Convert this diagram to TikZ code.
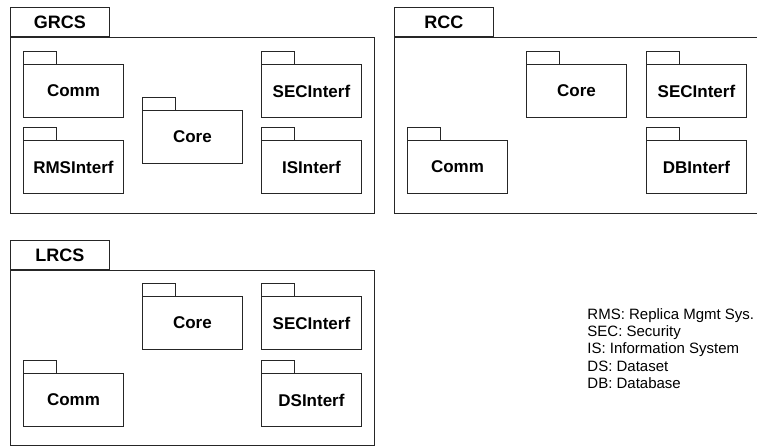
\documentclass[tikz,border=0pt]{standalone}
\usepackage{fontspec}
\setmainfont{Liberation Sans}
\usetikzlibrary{positioning}

\begin{document}
\begin{tikzpicture}[
        x=1pt, y=-1pt,
        line width=0.9pt, draw=black!85,
        frame/.style={draw, anchor=north west, inner sep=0pt},
        title/.style={draw, anchor=south west, inner sep=0pt, minimum width=99pt,
            minimum height=29pt, font=\bfseries\fontsize{18}{20}\selectfont},
        pkg/.style={draw, anchor=north west, inner sep=0pt, minimum width=100pt,
            minimum height=53pt, font=\bfseries\fontsize{17}{20}\selectfont},
        tab/.style={draw},
    ]
        \useasboundingbox (0, 0) rectangle (757, 447);

        % GRCS
        \node[frame, minimum width=364pt, minimum height=176pt] (grcs) at (10, 37) {};
        \node[title] (grcsT) at (grcs.north west) {GRCS};
        \node[pkg] (gcomm) at (23, 64) {Comm};
        \draw[tab] (gcomm.north west) rectangle ++(33, -13);
        \node[pkg] (grms) at (23, 140) {RMSInterf};
        \draw[tab] (grms.north west) rectangle ++(33, -13);
        \node[pkg] (gcore) at (142, 110) {Core};
        \draw[tab] (gcore.north west) rectangle ++(33, -13);
        \node[pkg] (gsec) at (261, 64) {SECInterf};
        \draw[tab] (gsec.north west) rectangle ++(33, -13);
        \node[pkg] (gis) at (261, 140) {ISInterf};
        \draw[tab] (gis.north west) rectangle ++(33, -13);

        % RCC
        \node[frame, minimum width=380pt, minimum height=176pt] (rcc) at (394, 37) {};
        \node[title] (rccT) at (rcc.north west) {RCC};
        \node[pkg] (rcore) at (526, 64) {Core};
        \draw[tab] (rcore.north west) rectangle ++(33, -13);
        \node[pkg] (rsec) at (646, 64) {SECInterf};
        \draw[tab] (rsec.north west) rectangle ++(33, -13);
        \node[pkg] (rcomm) at (407, 140) {Comm};
        \draw[tab] (rcomm.north west) rectangle ++(33, -13);
        \node[pkg] (rdb) at (646, 140) {DBInterf};
        \draw[tab] (rdb.north west) rectangle ++(33, -13);

        % LRCS
        \node[frame, minimum width=364pt, minimum height=175pt] (lrcs) at (10, 270) {};
        \node[title] (lrcsT) at (lrcs.north west) {LRCS};
        \node[pkg] (lcore) at (142, 296) {Core};
        \draw[tab] (lcore.north west) rectangle ++(33, -13);
        \node[pkg] (lsec) at (261, 296) {SECInterf};
        \draw[tab] (lsec.north west) rectangle ++(33, -13);
        \node[pkg] (lcomm) at (23, 373) {Comm};
        \draw[tab] (lcomm.north west) rectangle ++(33, -13);
        \node[pkg] (lds) at (261, 373) {DSInterf};
        \draw[tab] (lds.north west) rectangle ++(33, -13);

        % abbreviations
        \node[anchor=west, align=left, inner sep=0pt,
            font=\fontsize{15}{17.3}\selectfont] (abbr) at (587, 348.5)
            {RMS: Replica Mgmt Sys.\\ SEC: Security\\ IS: Information System\\
             DS: Dataset\\ DB: Database};
    \end{tikzpicture}
\end{document}
